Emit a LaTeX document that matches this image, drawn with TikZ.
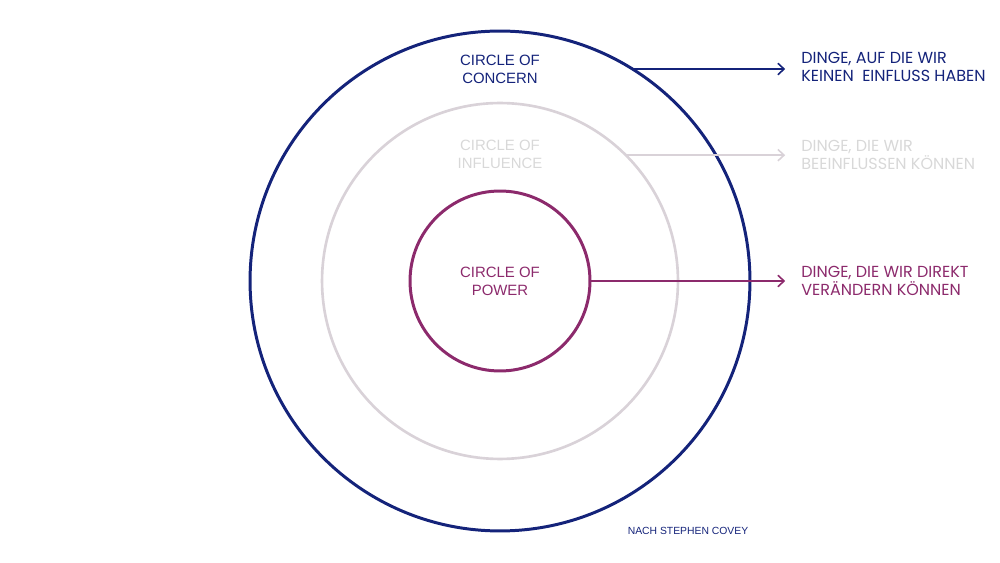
\documentclass[tikz,border=0pt]{standalone}
\usepackage{fontspec}
\setmainfont{Liberation Sans}
\newfontfamily\popfont{Poppins}
\usetikzlibrary{arrows.meta}
\definecolor{concernblue}{HTML}{14237A}
\definecolor{influencegrey}{HTML}{D9D2D8}
\definecolor{influencetext}{HTML}{D8D8D8}
\definecolor{powerpurple}{HTML}{8C2A6C}
\tikzset{
  ring/.style={circle, draw, inner sep=0pt, outer sep=0pt},
  ringlabel/.style={align=center, font=\fontsize{8.5}{10.2}\selectfont},
  sidelabel/.style={anchor=west, align=left, inner sep=0pt, font=\popfont\fontsize{9.1}{10.2}\selectfont},
  pointer/.style={line width=0.9pt, -{Straight Barb[length=3.5pt,width=6.5pt]}, shorten >=9pt}
}
\begin{document}
\begin{tikzpicture}[x=0.02cm,y=-0.02cm]
            \useasboundingbox (0,0) rectangle (1000,563);

            % the three circles
            \node[ring, draw=concernblue, line width=1.7pt, minimum size=10cm] (concern) at (500,281) {};
            \node[ring, draw=influencegrey, line width=1.5pt, minimum size=7.12cm] (influence) at (500,281) {};
            \node[ring, draw=powerpurple, line width=1.7pt, minimum size=3.6cm] (power) at (500,281) {};

            \node[ringlabel, text=concernblue] (lconcern) at (500,69) {CIRCLE OF\\CONCERN};
            \node[ringlabel, text=influencetext] (linfluence) at (500,154) {CIRCLE OF\\INFLUENCE};
            \node[ringlabel, text=powerpurple] (lpower) at (500,281) {CIRCLE OF\\POWER};

            % what each circle means
            \node[sidelabel, text=concernblue] (dconcern) at (801,67) {DINGE, AUF DIE WIR\\KEINEN\ \ EINFLUSS HABEN};
            \node[sidelabel, text=influencetext] (dinfluence) at (801,154.5) {DINGE, DIE WIR\\BEEINFLUSSEN KÖNNEN};
            \node[sidelabel, text=powerpurple] (dpower) at (801,281) {DINGE, DIE WIR DIREKT\\VERÄNDERN KÖNNEN};

            \draw[pointer, concernblue] (concern.58.9) -- (concern.58.9 -| dconcern.west);
            \draw[pointer, influencegrey] (influence.45) -- (influence.45 -| dinfluence.west);
            \draw[pointer, powerpurple] (power.east) -- (dpower.west);

            \node[font=\fontsize{5.9}{7}\selectfont, text=concernblue] (source) at (688,531) {NACH STEPHEN COVEY};
\end{tikzpicture}
\end{document}
